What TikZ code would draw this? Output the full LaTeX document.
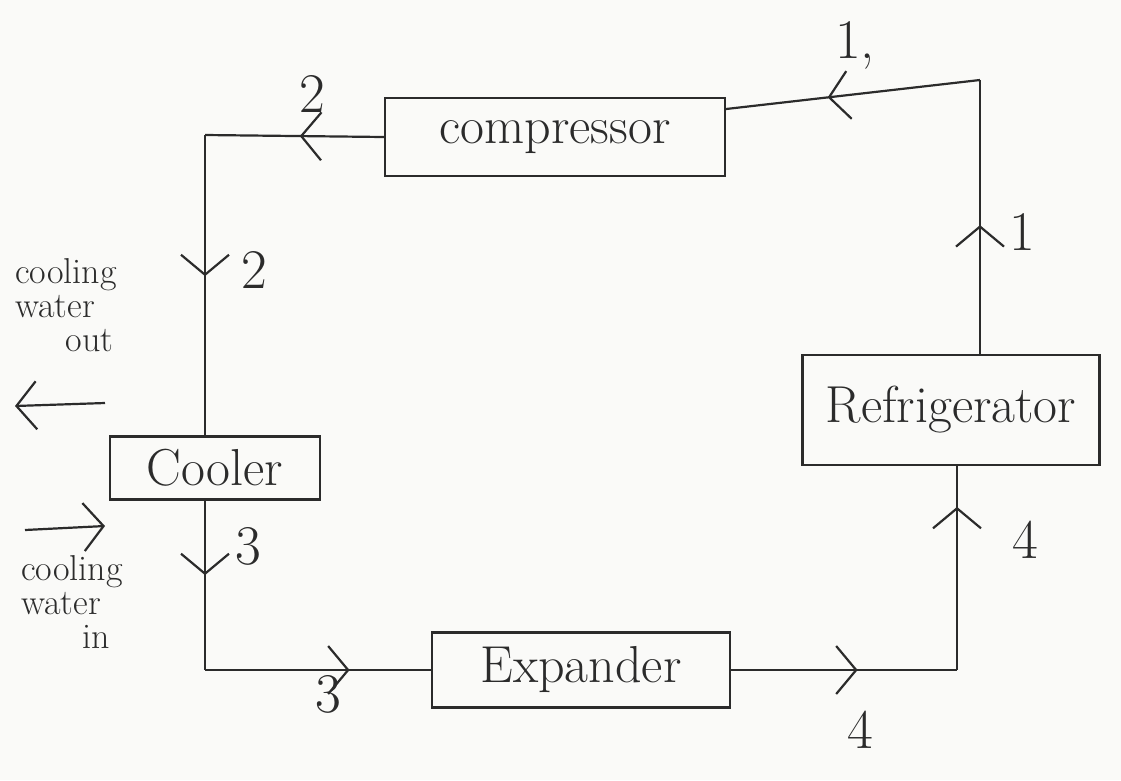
\documentclass[tikz,border=0pt]{standalone}
\usetikzlibrary{arrows.meta,decorations.markings}
\definecolor{ink}{HTML}{2B2B2B}
\definecolor{paper}{HTML}{FAFAF8}
\begin{document}
\begin{tikzpicture}[x=1pt,y=-1pt,
  line width=2.2pt, draw=ink, text=ink,
  box/.style={draw=ink, line width=2.2pt, inner sep=0pt, font=\fontsize{52}{56}\selectfont},
  lbl/.style={font=\fontsize{56}{60}\selectfont, inner sep=0pt},
  side/.style={font=\fontsize{36}{34}\selectfont, inner sep=0pt, align=left},
  chev/.tip={Straight Barb[length=20pt,width=48pt,line width=2.2pt]},
  flowat/.style={postaction={decorate},
    decoration={markings, mark=at position #1 with {\arrow{chev}}}}]
\fill[paper] (0,0) rectangle (1121,780);
\useasboundingbox (0,0) rectangle (1121,780);

% components
\node[box, minimum width=340pt, minimum height=78pt] (comp) at (555,137) {compressor};
\node[box, minimum width=210pt, minimum height=63pt] (cool) at (215,468) {Cooler};
\node[box, minimum width=298pt, minimum height=75pt] (exp) at (581,670) {Expander};
\node[box, minimum width=297pt, minimum height=110pt] (refr) at (951,410) {Refrigerator};

% corners
\coordinate (c1) at (980,80);
\coordinate (c2) at (205,135);
\coordinate (c3) at (205,670);
\coordinate (c4) at (957,670);

% loop connectors
\draw[flowat=0.47] (comp.west) -- (c2);
\draw[flowat=0.47] (c2) -- (cool.north -| c2);
\draw[flowat=0.44] (cool.south -| c2) -- (c3);
\draw[flowat=0.64] (c3) -- (exp.west);
\draw[flowat=0.56] (exp.east) -- (c4);
\draw[flowat=0.80] (c4) -- (refr.south -| c4);
\draw[flowat=0.47] (refr.north -| c1) -- (c1);
\draw[flowat=0.60] (c1) -- ([yshift=28pt]comp.east);

% cooling water
\coordinate (wo1) at (105,403);
\coordinate (wo2) at (15,406);
\draw[-{chev}] (wo1) -- (wo2);
\coordinate (wi1) at (25,530);
\coordinate (wi2) at (105,526);
\draw[-{chev}] (wi1) -- (wi2);

\node[side] (wout) at (66,305) {cooling\\water\\\hspace*{1.4em}out};
\node[side] (win) at (72,602) {cooling\\water\\\hspace*{1.7em}in};

% state labels
\node[lbl] (l2a) at (312,94) {2};
\node[lbl] (l2b) at (254,270) {2};
\node[lbl] (l3a) at (248,546) {3};
\node[lbl] (l3b) at (328,694) {3};
\node[lbl] (l4a) at (860,730) {4};
\node[lbl] (l4b) at (1025,540) {4};
\node[lbl] (l1a) at (1022,232) {1};
\node[lbl] (l1b) at (855,45) {1,};
\end{tikzpicture}
\end{document}
